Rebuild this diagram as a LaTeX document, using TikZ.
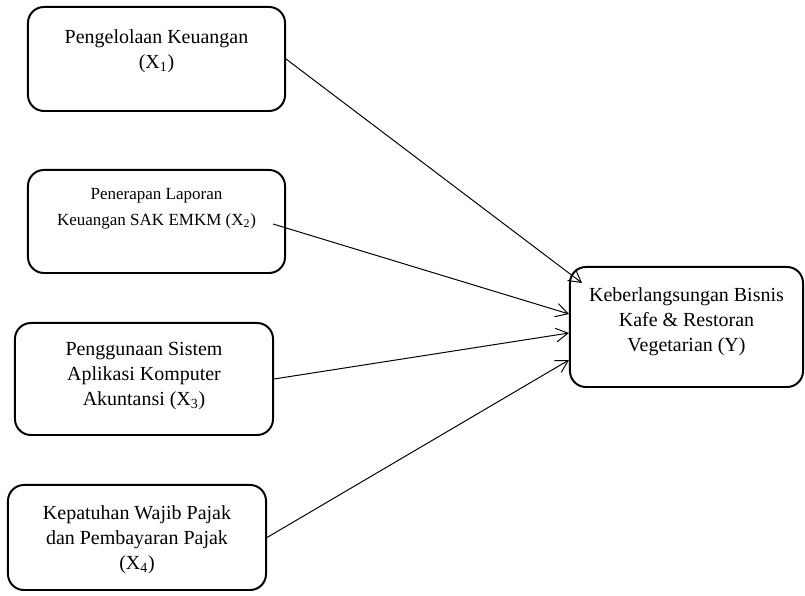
\documentclass[tikz,border=0pt]{standalone}
\usepackage{fontspec}
\setmainfont{Liberation Serif}
\usepackage{tikz}
\usetikzlibrary{arrows.meta}
\usetikzlibrary{positioning}
\tikzset{>={Straight Barb[length=3mm, width=3.4mm]}}
\tikzset{var-box/.style={draw, line width=1.4pt, rounded corners=0.4cm, inner sep=0}}
\tikzset{var-text/.style={align=center, inner sep=0, font=\fontsize{14.2}{17.8}\selectfont}}
\tikzset{small-text/.style={var-text, font=\fontsize{12.1}{18.5}\selectfont}}
\tikzset{path-line/.style={->, line width=0.7pt}}

\begin{document}
\begin{tikzpicture}[x=0.025cm, y=-0.025cm]
    \useasboundingbox (0,0) rectangle (805,596);

    % independent variables
    \node[var-box, minimum width=6.425cm, minimum height=2.6cm] (x1) at (156.5,59) {};
    \node[var-text, yshift=0.2cm] (x1label) at (x1) {Pengelolaan Keuangan\\(X\textsubscript{1})};

    \node[var-box, minimum width=6.425cm, minimum height=2.575cm] (x2) at (156.5,221.5) {};
    \node[small-text, yshift=0.325cm] (x2label) at (x2) {Penerapan Laporan\\Keuangan SAK EMKM (X\textsubscript{2})};

    \node[var-box, minimum width=6.45cm, minimum height=2.8cm] (x3) at (144,379) {};
    \node[var-text, yshift=0.075cm] (x3label) at (x3) {Penggunaan Sistem\\Aplikasi Komputer\\Akuntansi (X\textsubscript{3})};

    \node[var-box, minimum width=6.45cm, minimum height=2.625cm] (x4) at (137,537.5) {};
    \node[var-text, yshift=-0.05cm] (x4label) at (x4) {Kepatuhan Wajib Pajak\\dan Pembayaran Pajak\\(X\textsubscript{4})};

    % dependent variable
    \node[var-box, minimum width=5.825cm, minimum height=3cm] (y) at (686.5,327) {};
    \node[var-text, yshift=0.125cm] (ylabel) at (y) {Keberlangsungan Bisnis\\Kafe \& Restoran\\Vegetarian (Y)};

    \coordinate (x2out) at ([xshift=-0.325cm, yshift=-0.0625cm]x2.east);

    \draw[path-line] (x1.east) -- ([xshift=0.325cm, yshift=1.1cm]y.west);
    \draw[path-line] (x2out) -- ([yshift=0.325cm]y.west);
    \draw[path-line] (x3.east) -- ([yshift=-0.15cm]y.west);
    \draw[path-line] (x4.east) -- ([yshift=-0.825cm]y.west);
\end{tikzpicture}
\end{document}
